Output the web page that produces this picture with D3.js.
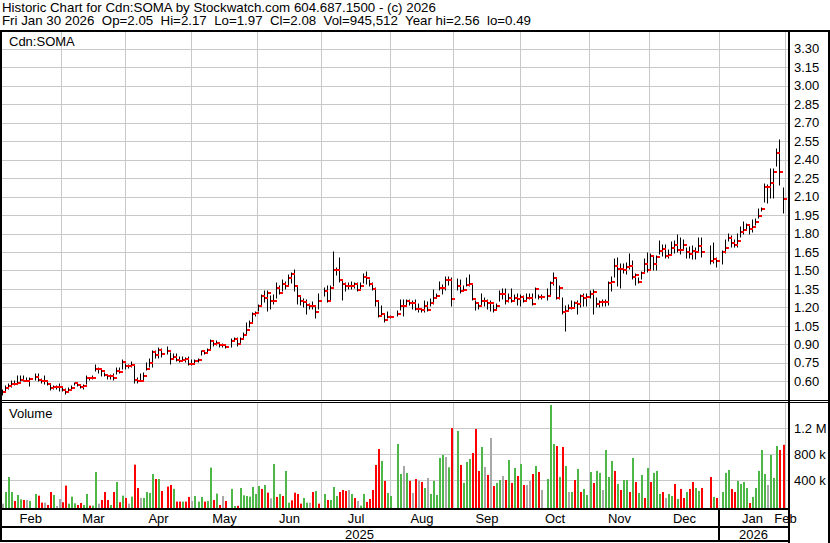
<!DOCTYPE html>
<html><head><meta charset="utf-8">
<script src="https://cdn.jsdelivr.net/npm/d3@7"></script>
<style>
body{margin:0;background:#fff}
svg{display:block}
text{font-family:"Liberation Sans",Arial,sans-serif;font-size:13px;fill:#000}
</style>
</head><body><svg id="c" width="830" height="543"></svg>
<script>
// ---------------- data ----------------
const headerLine1 = "Historic Chart for Cdn:SOMA by Stockwatch.com 604.687.1500 - (c) 2026";
const headerLine2 = "Fri Jan 30 2026  Op=2.05  Hi=2.17  Lo=1.97  Cl=2.08  Vol=945,512  Year hi=2.56  lo=0.49";
const symbolLabel = "Cdn:SOMA";
const volumeLabel = "Volume";
const firstDay = new Date(2025, 1, 3), lastDay = new Date(2026, 0, 30);

const monthNames = ["Jan","Feb","Mar","Apr","May","Jun","Jul","Aug","Sep","Oct","Nov","Dec"];
const priceTicks = [0.60,0.75,0.90,1.05,1.20,1.35,1.50,1.65,1.80,1.95,2.10,2.25,2.40,2.55,2.70,2.85,3.00,3.15,3.30];
const volTicks = [400000, 800000, 1200000];
const volTickLabels = ["400 k", "800 k", "1.2 M"];

// one slot per weekday, null = no trading
const close = [
 0.51,0.545,0.56,0.58,0.575,0.59,0.61,0.605,0.605,0.62,null,0.635,0.61,0.60,0.60,0.58,0.545,0.55,0.55,0.55,
 0.53,0.515,0.53,0.545,0.585,0.57,0.555,0.56,0.63,0.625,0.63,0.70,0.70,0.68,0.65,0.64,0.645,0.625,0.68,0.675,0.76,
 0.725,0.725,0.73,0.61,0.605,0.605,0.64,0.70,0.75,0.84,0.81,0.855,0.82,null,0.85,0.78,0.80,0.77,0.765,0.77,0.78,0.74,
 0.74,0.765,0.77,0.845,0.83,0.855,0.93,0.90,0.91,0.895,0.895,0.88,null,0.93,0.94,0.90,0.94,0.975,1.02,1.075,1.15,1.155,
 1.21,1.29,1.28,1.315,1.25,1.25,1.355,1.32,1.39,1.37,1.44,1.47,1.37,1.29,1.25,1.24,1.22,1.21,1.21,1.16,1.25,
 null,1.33,1.25,1.36,1.50,1.505,1.42,1.39,1.37,1.37,1.37,1.39,1.34,1.37,1.45,1.44,1.39,1.35,1.25,1.13,1.15,1.10,1.12,
 1.12,null,1.15,1.21,1.21,1.25,1.235,1.235,1.19,1.19,1.18,1.21,1.18,1.235,1.275,1.295,1.355,1.36,1.42,1.42,1.27,
 null,1.37,1.33,1.345,1.38,1.39,1.27,1.235,1.21,1.25,1.25,1.235,1.235,1.175,1.21,1.31,1.31,1.25,1.28,1.25,1.28,1.27,
 1.285,1.25,1.28,1.28,1.225,1.35,1.285,1.285,null,1.29,1.40,1.44,1.28,1.36,1.165,1.17,1.195,1.195,1.235,1.225,1.29,1.28,1.285,
 1.31,1.325,1.23,1.24,1.245,1.245,1.40,1.41,1.54,1.515,1.51,1.50,1.53,1.54,1.445,1.465,1.41,1.48,1.55,1.50,
 1.62,1.55,1.61,1.66,1.675,1.62,1.625,1.68,1.71,1.665,1.67,1.71,1.65,1.63,1.66,1.65,1.695,1.65,null,null,1.58,1.59,1.58,
 null,1.65,1.68,1.765,1.72,1.71,1.74,1.81,1.83,1.87,1.84,1.85,1.895,1.94,2.00,2.18,2.18,2.21,2.30,2.455,2.30,2.08
];
const high = [
 0.53,0.56,0.58,0.60,0.60,0.64,0.64,0.64,0.63,0.63,null,0.66,0.66,0.62,0.64,0.60,0.57,0.56,0.56,0.58,
 0.545,0.535,0.545,0.56,0.59,0.59,0.57,0.57,0.64,0.63,0.64,0.73,0.71,0.70,0.67,0.655,0.65,0.66,0.71,0.71,0.77,
 0.74,0.73,0.76,0.73,0.63,0.66,0.67,0.75,0.78,0.85,0.85,0.87,0.86,null,0.88,0.83,0.82,0.82,0.80,0.80,0.79,0.80,
 0.77,0.775,0.78,0.85,0.845,0.86,0.935,0.92,0.93,0.91,0.905,0.89,null,0.94,0.95,0.95,0.95,0.99,1.07,1.09,1.155,1.16,
 1.22,1.30,1.33,1.33,1.29,1.30,1.40,1.37,1.42,1.41,1.46,1.48,1.50,1.37,1.29,1.27,1.26,1.23,1.24,1.20,1.31,
 null,1.36,1.37,1.37,1.65,1.52,1.60,1.42,1.40,1.40,1.41,1.40,1.40,1.40,1.47,1.49,1.42,1.40,1.36,1.24,1.21,1.14,1.16,
 1.13,null,1.17,1.26,1.26,1.26,1.26,1.25,1.26,1.23,1.19,1.25,1.24,1.27,1.34,1.31,1.41,1.38,1.45,1.45,1.44,
 null,1.43,1.42,1.37,1.44,1.46,1.39,1.25,1.23,1.31,1.28,1.26,1.25,1.22,1.23,1.33,1.35,1.35,1.31,1.35,1.30,1.31,
 1.30,1.29,1.31,1.31,1.31,1.36,1.30,1.30,null,1.35,1.41,1.48,1.44,1.37,1.28,1.21,1.22,1.25,1.24,1.25,1.30,1.31,1.31,
 1.33,1.34,1.28,1.25,1.26,1.26,1.41,1.45,1.59,1.60,1.55,1.55,1.56,1.63,1.58,1.47,1.44,1.49,1.59,1.64,
 1.63,1.61,1.62,1.74,1.71,1.71,1.67,1.73,1.74,1.79,1.76,1.75,1.68,1.69,1.70,1.68,1.76,1.76,null,null,1.70,1.72,1.60,
 null,1.655,1.75,1.80,1.78,1.75,1.80,1.85,1.89,1.88,1.86,1.91,1.92,2.00,2.01,2.20,2.19,2.32,2.32,2.49,2.56,2.17
];
const low = [
 0.49,0.51,0.54,0.55,0.57,0.58,0.60,0.60,0.60,0.56,null,0.61,0.60,0.59,0.58,0.57,0.53,0.54,0.54,0.52,
 0.52,0.50,0.51,0.53,0.57,0.56,0.545,0.535,0.58,0.61,0.62,0.68,0.67,0.64,0.64,0.62,0.615,0.61,0.66,0.67,0.70,
 0.70,0.71,0.72,0.59,0.59,0.60,0.61,0.69,0.72,0.72,0.79,0.79,0.80,null,0.82,0.74,0.78,0.765,0.76,0.765,0.755,0.73,
 0.735,0.75,0.76,0.81,0.82,0.83,0.86,0.885,0.895,0.88,0.88,0.87,null,0.88,0.93,0.89,0.90,0.95,0.98,1.04,1.07,1.13,
 1.17,1.21,1.24,1.17,1.19,1.23,1.28,1.31,1.33,1.35,1.38,1.40,1.33,1.23,1.22,1.20,1.15,1.19,1.19,1.11,1.19,
 null,1.29,1.24,1.26,1.37,1.46,1.41,1.26,1.33,1.35,1.35,1.36,1.33,1.34,1.40,1.39,1.37,1.34,1.21,1.12,1.14,1.08,1.11,
 1.11,null,1.13,1.18,1.13,1.21,1.22,1.19,1.18,1.16,1.16,1.16,1.17,1.21,1.23,1.275,1.34,1.31,1.34,1.38,1.21,
 null,1.34,1.32,1.33,1.37,1.37,1.26,1.18,1.19,1.21,1.21,1.19,1.17,1.16,1.19,1.25,1.27,1.23,1.24,1.24,1.26,1.22,
 1.21,1.24,1.26,1.27,1.22,1.28,1.27,1.27,null,1.26,1.30,1.38,1.27,1.27,1.15,1.01,1.18,1.19,1.20,1.15,1.20,1.21,1.21,
 1.28,1.15,1.20,1.20,1.21,1.21,1.22,1.33,1.45,1.37,1.36,1.48,1.47,1.51,1.43,1.38,1.40,1.43,1.48,1.49,
 1.50,1.50,1.50,1.63,1.62,1.60,1.60,1.63,1.64,1.65,1.63,1.67,1.60,1.60,1.59,1.59,1.66,1.61,null,null,1.55,1.56,1.53,
 null,1.55,1.64,1.74,1.69,1.69,1.69,1.77,1.80,1.83,1.80,1.81,1.87,1.93,1.98,2.06,2.05,2.09,2.09,2.35,2.19,1.97
];
// volume in thousands of shares
const volumeK = [
 41,220,451,220,82,174,108,97,97,82,null,190,164,56,56,20,220,174,5,113,
 62,318,41,149,46,20,51,20,190,10,10,528,41,97,220,97,20,220,374,62,164,
 128,41,149,641,282,128,128,220,205,497,420,420,236,null,303,328,267,72,72,72,72,144,
 82,159,72,144,72,82,595,97,195,20,159,82,null,267,5,8,282,169,159,149,297,190,
 313,267,328,210,123,651,144,190,159,544,56,92,210,190,41,128,56,56,220,236,41,
 null,190,97,97,297,159,220,251,236,251,190,128,82,10,190,67,113,251,636,882,697,390,205,
 159,null,959,497,620,513,390,205,420,390,374,282,436,190,390,174,744,790,759,600,1205,
 null,1159,636,359,682,728,820,1190,544,913,605,482,1051,313,359,405,467,405,713,359,590,467,
 651,328,328,390,497,620,528,251,null,420,1559,959,928,451,913,620,220,220,405,574,220,267,174,
 528,359,544,513,251,867,451,697,544,344,251,405,405,220,744,374,205,482,128,590,
 374,513,544,190,220,128,190,159,344,113,267,128,220,267,374,282,236,282,null,null,451,144,128,
 null,220,513,559,267,220,390,344,374,282,51,144,282,544,867,497,328,790,436,928,867,945.512
];
// u = close up, d = close down, n = unchanged, _ = no trading
const volDir = [
 "nuuuduudnu_uddnddunn",
 "dduuudduuduundddududu",
 "dnuddnuuuudud_dduddudd",
 "nuuuduududnd_uuduuuuuu",
 "ududnududuudddduundud",
 "_uduuudddnudnuudddddudu",
 "u_uunudndndunuuuuunud",
 "_uduuudddundnduundudud",
 "udnndudn_uuududunududuu",
 "uduunuuududuududuudu",
 "duuudnuududdudduud__dud",
 "_uuudduuuuduuuuunuuudd"
].join("");

// ---------------- chart ----------------
const W = 830, H = 543;
const svg = d3.select("#c");
svg.append("rect").attr("width", W).attr("height", H).attr("fill", "#fff");

const dates = d3.timeDay.range(firstDay, d3.timeDay.offset(lastDay, 1)).filter(d => d.getDay() !== 0 && d.getDay() !== 6);
const N = dates.length;
const bars = dates.map((d, i) => ({i, date: d, c: close[i], h: high[i], l: low[i],
  v: volumeK[i] == null ? null : volumeK[i] * 1000, dir: volDir[i]}));

const plotL = 2, plotR = 788, priceTop = 32, priceBot = 400, volTop = 402, volBot = 509;
const x = d3.scaleLinear().domain([0, N - 1]).range([1.5, 782.5]);
const y = d3.scaleLinear().domain([0.60, 3.30]).range([381.3, 48.8]);
const yv = d3.scaleLinear().domain([0, 1200000]).range([506.3, 428.3]);

// month starts
const monthStarts = [];
dates.forEach((d, i) => { if (i === 0 || d.getMonth() !== dates[i - 1].getMonth()) monthStarts.push({i, d}); });
monthStarts.push({i: N, d: d3.timeMonth.offset(d3.timeMonth.floor(dates[N - 1]), 1)});
const gx = i => Math.round(x(i) - 0.5) + 0.5;

const grid = svg.append("g").attr("stroke", "#c8c8c8").attr("stroke-width", 1);
priceTicks.forEach(t => {
  const yy = Math.round(y(t)) + 0.5;
  grid.append("line").attr("x1", plotL).attr("x2", plotR).attr("y1", yy).attr("y2", yy);
});
volTicks.forEach(t => {
  const yy = Math.round(yv(t)) + 0.5;
  grid.append("line").attr("x1", plotL).attr("x2", plotR).attr("y1", yy).attr("y2", yy);
});
monthStarts.slice(1).forEach(m => {
  const xx = gx(m.i);
  grid.append("line").attr("x1", xx).attr("x2", xx).attr("y1", priceTop).attr("y2", priceBot);
  grid.append("line").attr("x1", xx).attr("x2", xx).attr("y1", volTop).attr("y2", volBot);
});

// price bars
const valid = bars.filter(b => b.c != null);
const pg = svg.append("g");
pg.selectAll("line.hl").data(valid).join("line")
  .attr("x1", b => Math.round(x(b.i)) + 0.5).attr("x2", b => Math.round(x(b.i)) + 0.5)
  .attr("y1", b => Math.round(y(b.h)) - 0.5).attr("y2", b => Math.round(y(b.l)) + 0.5)
  .attr("stroke", "#000").attr("stroke-width", 1);
pg.selectAll("rect.cl").data(valid).join("rect")
  .attr("x", b => Math.round(x(b.i)) + 1).attr("y", b => Math.round(y(b.c)) - 1)
  .attr("width", 3).attr("height", 2).attr("fill", "#ff0000");

// volume bars
const volColor = {u: "#4db848", d: "#ff0000", n: "#a8a8a8"};
svg.append("g").selectAll("rect").data(bars.filter(b => b.v != null)).join("rect")
  .attr("x", b => Math.round(x(b.i)))
  .attr("y", b => yv(b.v))
  .attr("width", 2)
  .attr("height", b => volBot - yv(b.v))
  .attr("fill", b => volColor[b.dir] || "#a8a8a8");

// borders
const bd = svg.append("g").attr("fill", "#000");
bd.append("rect").attr("x", 0).attr("y", 30).attr("width", W).attr("height", 2);
bd.append("rect").attr("x", 0).attr("y", 30).attr("width", 2).attr("height", 512);
bd.append("rect").attr("x", 788).attr("y", 30).attr("width", 2).attr("height", 513);
bd.append("rect").attr("x", 828).attr("y", 30).attr("width", 2).attr("height", 513);
bd.append("rect").attr("x", 0).attr("y", 400).attr("width", W).attr("height", 1);
bd.append("rect").attr("x", 0).attr("y", 402).attr("width", W).attr("height", 1);
bd.append("rect").attr("x", 0).attr("y", 508).attr("width", 790).attr("height", 2);
bd.append("rect").attr("x", 0).attr("y", 526).attr("width", 790).attr("height", 2);
bd.append("rect").attr("x", 0).attr("y", 540).attr("width", 790).attr("height", 2);
const janStart = monthStarts.find(m => m.d.getMonth() === 0 && m.i > 0);
bd.append("rect").attr("x", Math.round(x(janStart.i) - 0.5) - 1).attr("y", 510).attr("width", 2).attr("height", 31);

// axes (right side)
const styleAxis = g => {
  g.select(".domain").remove();
  g.attr("font-family", null).attr("font-size", null);
  g.selectAll("text").attr("fill", "#000").style("font-size", "13px");
};
svg.append("g").attr("transform", "translate(788,0)")
  .call(d3.axisRight(y).tickValues(priceTicks).tickFormat(d3.format(".2f")).tickSize(0).tickPadding(6))
  .call(styleAxis);
svg.append("g").attr("transform", "translate(788,0)")
  .call(d3.axisRight(yv).tickValues(volTicks).tickFormat((d, k) => volTickLabels[k]).tickSize(0).tickPadding(6))
  .call(styleAxis);

// month labels
monthStarts.forEach((m, k) => {
  if (m.i >= N) return;
  const a = k === 0 ? 0 : gx(m.i);
  const b = k + 1 < monthStarts.length && monthStarts[k + 1].i < N ? gx(monthStarts[k + 1].i) : gx(N);
  svg.append("text").attr("x", (a + b) / 2).attr("y", 523).attr("text-anchor", "middle").text(monthNames[m.d.getMonth()]);
});
const lastM = monthStarts[monthStarts.length - 1];
svg.append("text").attr("x", gx(lastM.i)).attr("y", 523).attr("text-anchor", "middle").text(monthNames[lastM.d.getMonth()]);

// year labels
const jx = Math.round(x(janStart.i) - 0.5);
svg.append("text").attr("x", jx / 2).attr("y", 539).attr("text-anchor", "middle").text(String(dates[0].getFullYear()));
svg.append("text").attr("x", (jx + 788) / 2).attr("y", 539).attr("text-anchor", "middle").text(String(dates[N - 1].getFullYear()));

// header & panel labels
svg.append("text").attr("x", 2).attr("y", 11.5).style("white-space", "pre").style("font-size", "13.3px").text(headerLine1);
svg.append("text").attr("x", 2).attr("y", 25).style("white-space", "pre").style("font-size", "13.3px").text(headerLine2);
svg.append("text").attr("x", 9).attr("y", 46).text(symbolLabel);
svg.append("text").attr("x", 9).attr("y", 418).text(volumeLabel);
</script>
</body></html>
